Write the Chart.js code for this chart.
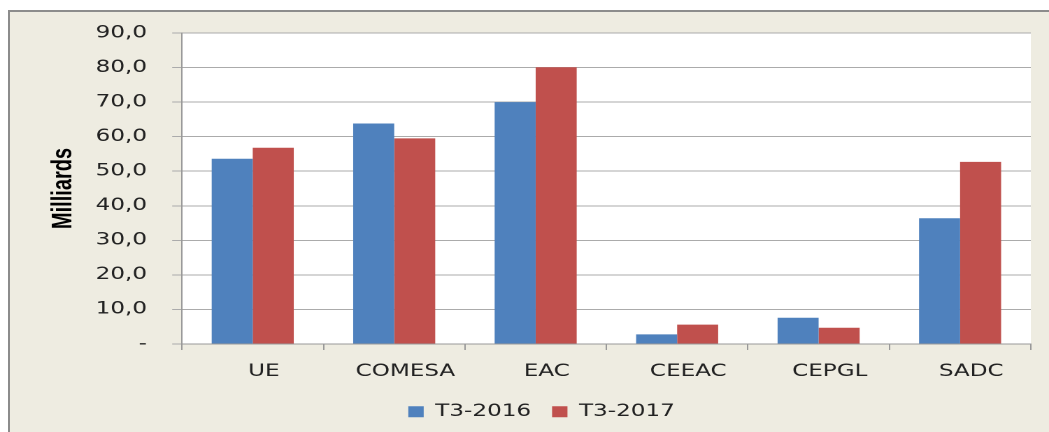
<!DOCTYPE html>
<html>
<head>
<meta charset="utf-8">
<script src="https://cdn.jsdelivr.net/npm/chart.js@4.4.1/dist/chart.umd.min.js"></script>
<style>
  html, body { margin: 0; padding: 0; background: #ffffff; overflow: hidden; width: 1049px; height: 432px; }
  #frame { position: absolute; left: 8px; top: 10px; width: 1100px; height: 500px; background: #EEECE1; border-left: 2px solid #8c8c8c; border-top: 2px solid #8c8c8c; }
  #wrap { position: absolute; left: 0; top: 0; width: 750px; height: 432px; transform: scaleX(1.39867); transform-origin: 0 0; }
</style>
</head>
<body>
<div id="frame"></div>
<div id="wrap"><canvas id="c"></canvas></div>
<script>
const categories = ['UE', 'COMESA', 'EAC', 'CEEAC', 'CEPGL', 'SADC'];
const seriesNames = ['T3-2016', 'T3-2017'];
const t2016 = [53.6, 63.8, 70.0, 2.8, 7.6, 36.4];
const t2017 = [56.8, 59.5, 80.1, 5.6, 4.7, 52.7];
const yTickLabels = ['-', '10,0', '20,0', '30,0', '40,0', '50,0', '60,0', '70,0', '80,0', '90,0'];

const plotBg = {
  id: 'plotBg',
  beforeDraw(chart) {
    const { ctx, chartArea: a } = chart;
    ctx.save();
    ctx.fillStyle = '#ffffff';
    ctx.fillRect(a.left, a.top, a.right - a.left, a.bottom - a.top);
    ctx.restore();
  }
};

const txtFont = { family: 'DejaVu Sans', size: 16.5 };

new Chart(document.getElementById('c'), {
  type: 'bar',
  data: {
    labels: categories,
    datasets: [
      { label: seriesNames[0], data: t2016, backgroundColor: '#4F81BD', borderWidth: 0 },
      { label: seriesNames[1], data: t2017, backgroundColor: '#C0504D', borderWidth: 0 }
    ]
  },
  options: {
    responsive: true,
    maintainAspectRatio: false,
    animation: false,
    devicePixelRatio: 2,
    categoryPercentage: 0.58,
    barPercentage: 1.0,
    layout: { padding: { left: 37.4, right: 13, top: 33, bottom: 2 } },
    plugins: {
      legend: {
        position: 'bottom',
        labels: {
          boxWidth: 11, boxHeight: 11, padding: 15,
          color: '#222222',
          font: txtFont
        }
      },
      tooltip: { enabled: false }
    },
    scales: {
      x: {
        afterFit(scale) { scale.height = 44.5; },
        grid: { display: true, drawOnChartArea: false, drawTicks: true, tickLength: 6, offset: true, color: '#999999' },
        border: { display: true, color: '#999999' },
        ticks: { color: '#222222', font: txtFont, padding: 11.7, labelOffset: 8, maxRotation: 0 }
      },
      y: {
        min: 0, max: 90,
        afterFit(scale) { scale.width = 92.7; },
        grid: { color: '#ABABAB', tickLength: 7, tickColor: '#ABABAB' },
        border: { display: true, color: '#9a9a9a' },
        ticks: {
          stepSize: 10, padding: 18, color: '#222222',
          font: txtFont,
          callback: (v) => yTickLabels[Math.round(v / 10)]
        },
        title: {
          display: true, text: 'Milliards', color: '#000000',
          font: { family: 'Liberation Sans', weight: 'bold', size: 20, lineHeight: 0.8 },
          padding: 0
        }
      }
    }
  },
  plugins: [plotBg]
});
</script>
</body>
</html>
